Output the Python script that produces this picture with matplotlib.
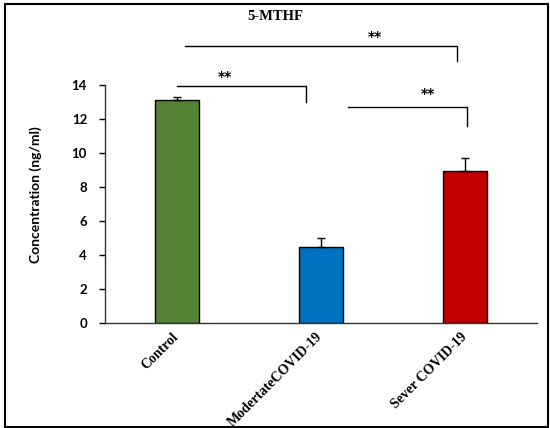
import matplotlib
matplotlib.use("Agg")
import matplotlib.pyplot as plt
from matplotlib.patches import Rectangle
from matplotlib.transforms import ScaledTranslation

categories = ["Control", "ModertateCOVID-19", "Sever COVID-19"]
values = [13.1, 4.5, 8.95]
errors = [0.2, 0.5, 0.75]
colors = ["#548235", "#0070C0", "#C00000"]
yticks = [0, 2, 4, 6, 8, 10, 12, 14]

fig = plt.figure(figsize=(5.5, 4.28), dpi=100)
# outer frame
fig.patches.append(Rectangle((5/550, 1 - 427/428), 543/550, 423/428, transform=fig.transFigure,
                             fill=False, edgecolor="black", linewidth=1.5))
ax = fig.add_axes([105/550, 1 - 323/428, 432/550, 238/428])
x = list(range(len(categories)))
ax.bar(x, values, width=0.31, color=colors, edgecolor="black", linewidth=1.0, zorder=2)
ax.errorbar(x, values, yerr=[[0]*3, errors], fmt="none", ecolor="black", elinewidth=1.0,
            capsize=3, capthick=1.0, zorder=3)
ax.set_xlim(-0.5, 2.5)
ax.set_ylim(0, 14)
ax.set_yticks(yticks)
ax.set_yticklabels([str(t) for t in yticks], fontsize=9.5, fontweight="bold", family="Lato")
ax.tick_params(axis="y", direction="out", length=4, width=1, pad=9)
ax.tick_params(axis="x", length=0, pad=5)
ax.set_xticks(x)
ax.set_xticklabels(categories, rotation=45, ha="right", va="top", rotation_mode="anchor",
                   fontsize=10, fontweight="bold", family="Liberation Serif")
offset = ScaledTranslation(-5/100, 0, fig.dpi_scale_trans)
for lbl in ax.get_xticklabels():
    lbl.set_transform(lbl.get_transform() + offset)
for s in ["top", "right"]:
    ax.spines[s].set_visible(False)
for s in ["left", "bottom"]:
    ax.spines[s].set_linewidth(1.0)
    ax.spines[s].set_color("#333333")
ax.set_ylabel("Concentration (ng/ml)", fontsize=10, fontweight="bold", family="Lato")
ax.yaxis.set_label_coords(-0.145, 0.54)

def bracket(x0, x1, y, ydrop, sx, sy):
    ax.plot([x0, x1, x1], [y, y, ydrop], color="black", linewidth=1.0, clip_on=False)
    ax.text(sx, sy, "**", ha="center", va="center", fontsize=10, fontweight="bold",
            family="DejaVu Sans", clip_on=False)

bracket(0.0, 0.896, 13.94, 13.0, 0.33, 14.5)
bracket(0.056, 1.944, 16.3, 15.4, 1.375, 16.85)
bracket(1.188, 2.014, 12.7, 11.6, 1.743, 13.45)

fig.text(0.5, 1 - 16/428, "5-MTHF", ha="center", va="center", fontsize=10.5, fontweight="bold",
         family="Liberation Serif")
fig.savefig("out.png", dpi=100)
